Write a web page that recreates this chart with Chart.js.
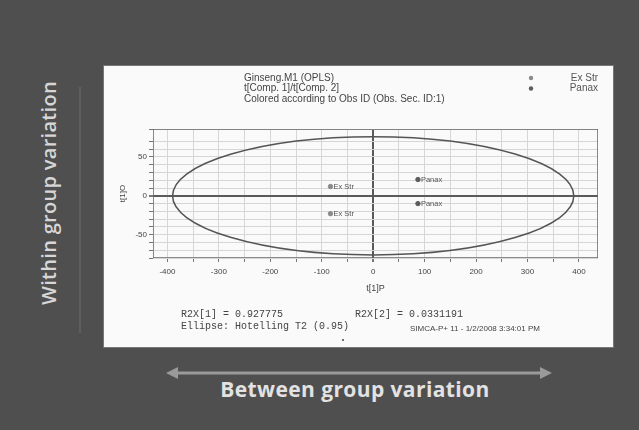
<!DOCTYPE html>
<html>
<head>
<meta charset="utf-8">
<script src="https://cdn.jsdelivr.net/npm/chart.js@4.4.1/dist/chart.umd.min.js"></script>
<style>
  body { margin: 0; width: 639px; height: 430px; background: #4f4f4f; position: relative; overflow: hidden; font-family: "Open Sans", sans-serif; }
  #panel { position: absolute; left: 104px; top: 66px; width: 509px; height: 281px; background: #fafafa; box-shadow: 0 0 0 1px #777; }
  #within { position: absolute; left: 48px; top: 193px; transform: translate(-50%, -50%) rotate(-90deg); color: #d6d6d6; font-size: 20px; font-weight: 600; white-space: nowrap; letter-spacing: 0.3px; }
  #between { position: absolute; left: 355px; top: 389px; transform: translate(-50%, -50%); color: #e2e2e2; font-size: 21px; font-weight: 700; white-space: nowrap; letter-spacing: 0.4px; }
  svg { position: absolute; left: 0; top: 0; }
</style>
</head>
<body>
<svg width="639" height="430">
  <line x1="80" y1="87" x2="80" y2="333" stroke="#5e5e5e" stroke-width="2"/>
  <line x1="176" y1="373" x2="542" y2="373" stroke="#9a9a9a" stroke-width="3"/>
  <polygon points="166,373 178,367 178,379" fill="#9a9a9a"/>
  <polygon points="552,373 540,367 540,379" fill="#9a9a9a"/>
</svg>
<div id="within">Within group variation</div>
<div id="between">Between group variation</div>
<div id="panel"><canvas id="score" width="509" height="281"></canvas></div>

<script>
// score plot values
const groups = ['Ex Str', 'Panax'];
const exStrX = [-83, -83];
const exStrY = [12, -23];
const panaxX = [87, 87];
const panaxY = [21, -10];
const groupColors = ['#8a8a8a', '#5c5c5c'];

// axis ranges, labelled ticks
const xRange = [-428, 437];
const yRange = [-80, 86];
const xTickLabels = [-400, -300, -200, -100, 0, 100, 200, 300, 400];
const yTickLabels = [-50, 0, 50];
const xGridStep = 50;

// hotelling T2 ellipse half axes (data units)
const ellipseRx = 390;
const ellipseRy = 76;

const titleLines = ['Ginseng.M1 (OPLS)', 't[Comp. 1]/t[Comp. 2]', 'Colored according to Obs ID (Obs. Sec. ID:1)'];
const footerLeft = ['R2X[1] = 0.927775', 'Ellipse: Hotelling T2 (0.95)'];
const footerRight = ['R2X[2] = 0.0331191', 'SIMCA-P+ 11 - 1/2/2008 3:34:01 PM'];

const toPoints = (xs, ys) => xs.map((x, i) => ({x: x, y: ys[i]}));

const gridColor = (ctx) => ctx.tick.value === 0 ? '#5a5a5a' : '#d6d6d6';
const gridWidth = (ctx) => ctx.tick.value === 0 ? 2 : 1;

// ellipse drawn through the scales, clipped to plot area
const ellipsePlugin = {
    id: 'ellipse',
    beforeDatasetsDraw(chart) {
        const {ctx, chartArea, scales} = chart;
        const cx = scales.x.getPixelForValue(0);
        const cy = scales.y.getPixelForValue(0);
        const rx = scales.x.getPixelForValue(ellipseRx) - cx;
        const ry = cy - scales.y.getPixelForValue(ellipseRy);
        ctx.save();
        ctx.beginPath();
        ctx.rect(chartArea.left, chartArea.top, chartArea.width, chartArea.height);
        ctx.clip();
        ctx.beginPath();
        ctx.ellipse(cx, cy, rx, ry, 0, 0, Math.PI * 2);
        ctx.strokeStyle = '#555';
        ctx.lineWidth = 1.5;
        ctx.stroke();
        // plot frame
        ctx.strokeStyle = '#666';
        ctx.lineWidth = 1.5;
        ctx.strokeRect(chartArea.left, chartArea.top, chartArea.width, chartArea.height);
        ctx.restore();
    }
};

// text next to each point, titles, legend and footer
const textPlugin = {
    id: 'texts',
    afterDatasetsDraw(chart) {
        const ctx = chart.ctx;
        ctx.save();
        ctx.font = '7.5px "Liberation Sans", Arial, sans-serif';
        ctx.fillStyle = '#555';
        ctx.textBaseline = 'middle';
        chart.data.datasets.forEach((ds, i) => {
            chart.getDatasetMeta(i).data.forEach(pt => {
                ctx.fillText(ds.label, pt.x + 3, pt.y);
            });
        });
        ctx.restore();
    },
    afterDraw(chart) {
        const ctx = chart.ctx;
        ctx.save();
        ctx.fillStyle = '#444';
        ctx.textBaseline = 'middle';
        ctx.font = '10px "Liberation Sans", Arial, sans-serif';
        titleLines.forEach((t, i) => ctx.fillText(t, 140, 12 + i * 10.5));

        // legend
        chart.data.datasets.forEach((ds, i) => {
            ctx.fillStyle = ds.backgroundColor;
            ctx.beginPath();
            ctx.arc(427, 12 + i * 10.5, 2.2, 0, Math.PI * 2);
            ctx.fill();
            ctx.fillStyle = '#555';
            ctx.textAlign = 'right';
            ctx.fillText(ds.label, 494, 12 + i * 10.5);
            ctx.textAlign = 'left';
        });

        ctx.fillStyle = '#444';
        ctx.font = '10px "Liberation Mono", "DejaVu Sans Mono", monospace';
        ctx.fillText(footerLeft[0], 77, 248);
        ctx.fillText(footerLeft[1], 77, 260);
        ctx.fillText(footerRight[0], 251, 248);
        ctx.font = '8px "Liberation Sans", Arial, sans-serif';
        ctx.fillText(footerRight[1], 306, 263);
        ctx.beginPath();
        ctx.arc(239, 274, 1, 0, Math.PI * 2);
        ctx.fill();
        ctx.restore();
    }
};

const scoreChart = new Chart(document.getElementById('score'), {
    type: 'scatter',
    data: {
        datasets: [
            {label: groups[0], data: toPoints(exStrX, exStrY), backgroundColor: groupColors[0], borderColor: groupColors[0], pointRadius: 2.2},
            {label: groups[1], data: toPoints(panaxX, panaxY), backgroundColor: groupColors[1], borderColor: groupColors[1], pointRadius: 2.2}
        ]
    },
    options: {
        responsive: false,
        animation: false,
        layout: {padding: {left: 0, top: 63, right: 15, bottom: 49}},
        plugins: {legend: {display: false}, tooltip: {enabled: false}},
        scales: {
            x: {
                type: 'linear',
                min: xRange[0],
                max: xRange[1],
                afterFit(scale) { scale.height = 40 },
                // grid every 50 between the outer labelled ticks
                afterBuildTicks(scale) {
                    const first = xTickLabels[0], last = xTickLabels[xTickLabels.length - 1];
                    const ticks = [];
                    for (let v = first; v <= last; v += xGridStep) ticks.push({value: v});
                    scale.ticks = ticks;
                },
                border: {display: false},
                grid: {color: gridColor, lineWidth: gridWidth, tickLength: 4, tickColor: '#777'},
                ticks: {
                    padding: 5,
                    maxRotation: 0,
                    autoSkip: false,
                    color: '#444',
                    font: {size: 8, family: '"Liberation Sans", Arial, sans-serif'},
                    callback: v => xTickLabels.includes(v) ? v : ''
                },
                title: {display: true, text: 't[1]P', color: '#444', padding: {top: 0, bottom: 4}, font: {size: 9, family: '"Liberation Sans", Arial, sans-serif'}}
            },
            y: {
                type: 'linear',
                min: yRange[0],
                max: yRange[1],
                afterFit(scale) { scale.width = 49 },
                border: {display: false},
                grid: {color: gridColor, lineWidth: gridWidth, tickLength: 4, tickColor: '#777'},
                ticks: {
                    stepSize: 10,
                    padding: 2,
                    autoSkip: false,
                    color: '#444',
                    font: {size: 8, family: '"Liberation Sans", Arial, sans-serif'},
                    callback: v => yTickLabels.includes(v) ? v : ''
                },
                title: {display: true, text: 't[1]O', color: '#444', padding: {top: 14, bottom: 0}, font: {size: 8, family: '"Liberation Sans", Arial, sans-serif'}}
            }
        }
    },
    plugins: [ellipsePlugin, textPlugin]
});
</script>
</body>
</html>
